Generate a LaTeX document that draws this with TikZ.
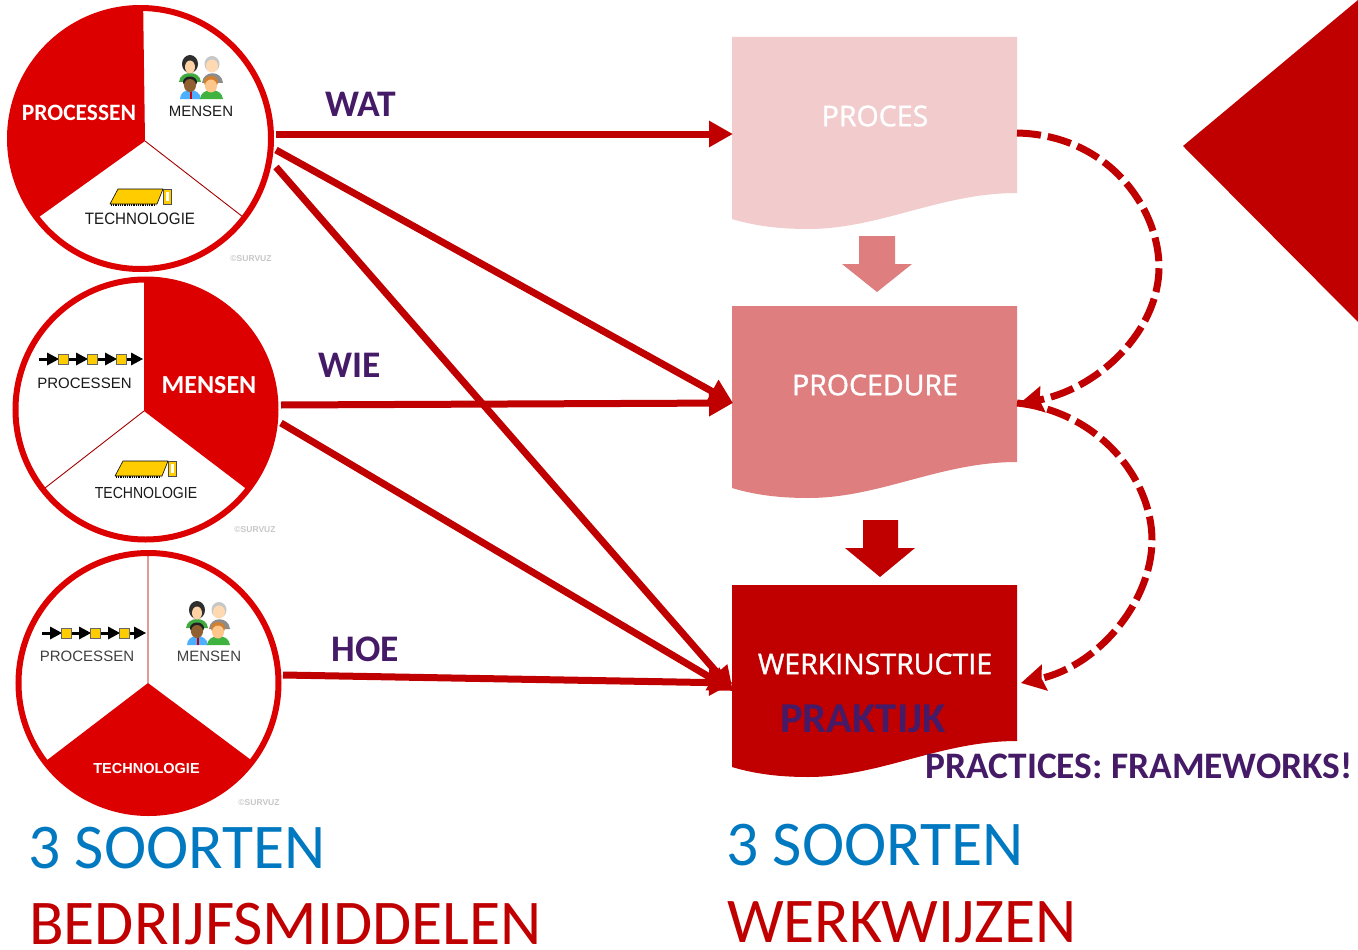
\documentclass[tikz,border=0pt]{standalone}
\usepackage{fontspec}
\setmainfont{Carlito}
\newfontfamily\arialf{Liberation Sans}
\newfontfamily\segf[FakeBold=1.3]{Open Sans}
\usetikzlibrary{arrows.meta}
\definecolor{cred}{HTML}{DD0000}
\definecolor{dred}{HTML}{C00000}
\definecolor{pinkA}{HTML}{F2CBCD}
\definecolor{pinkB}{HTML}{DF7E7F}
\definecolor{purp}{HTML}{451A66}
\definecolor{sblue}{HTML}{0079C1}
\definecolor{chipy}{HTML}{FFCC00}
\newcommand{\fsz}[1]{\fontsize{#1pt}{#1pt}\selectfont}
\tikzset{
  ringnode/.style={circle,draw=cred,line width=6pt,inner sep=0pt,fill=none},
  divider/.style={draw=dred!85!black,line width=.9pt},
  conn/.style={draw=dred,line width=7pt,-{Triangle[length=24pt,width=25pt]}},
  dashconn/.style={draw=dred,line width=7pt,dash pattern=on 24pt off 7pt,-{Stealth[length=24pt,width=26pt,inset=3pt]}},
  lbl/.style={font=\arialf\fsz{15},text=black!90,inner sep=0pt},
  wlbl/.style={font=\bfseries\fsz{23},text=white,inner sep=0pt},
  hoelbl/.style={font=\bfseries\fsz{37.5},text=purp,inner sep=0pt},
  copyr/.style={font=\arialf\bfseries\fsz{8.5},text=black!22,inner sep=0pt},
  bigblue/.style={font=\fsz{63.7},text=sblue,inner sep=0pt,anchor=base west},
  bigred/.style={font=\fsz{63.7},text=dred,inner sep=0pt,anchor=base west},
  doclbl/.style={font=\segf\fsz{28.5},text=white,inner sep=0pt},
  people/.pic={
    \fill[green!55!black!75] (-22,5) .. controls (-21,-7) and (-1,-7) .. (0,5) -- cycle;
    \fill[black!82] (-11,-13) ellipse (8 and 9);
    \fill[orange!35!white] (-11,-10) ellipse (5 and 6.5);
    \fill[black!45] (1,6) .. controls (2,-7) and (21,-7) .. (22,6) -- cycle;
    \fill[black!22] (11,-13) ellipse (7.5 and 8);
    \fill[orange!30!white] (11,-11) ellipse (6 and 6.5);
    \fill[blue!45!cyan!70] (-21,22) .. controls (-21,10) and (-1,10) .. (0,22) -- cycle;
    \fill[red!80!black] (-11.5,12) -- (-9.5,12) -- (-9.5,22) -- (-11.5,22) -- cycle;
    \fill[black!88] (-11,5) ellipse (7 and 5.5);
    \fill[brown!75!black] (-11,8.5) ellipse (6 and 6.5);
    \fill[green!60!black!75] (-1,22) .. controls (0,10) and (21,10) .. (22,22) -- cycle;
    \fill[brown!70!orange] (10,5) ellipse (7 and 6);
    \fill[orange!45!white] (10,9) ellipse (6 and 6.5);
  },
  chippic/.pic={
    \draw[black,line width=1.6pt,dash pattern=on 1pt off .8pt] (1,15.8) -- (46,15.8);
    \draw[black,line width=.6pt,fill=chipy,line join=round] (0,15) -- (8,0) -- (53,0) -- (47,15) -- cycle;
    \draw[black!70,line width=.6pt,fill=chipy] (53,0) rectangle (61,15);
    \fill[white] (55.5,3) rectangle (58.5,12);
  },
  flowpic/.pic={
    \foreach \a/\b in {0/19,29/48,58/77,87/103}{
      \draw[black,line width=3pt] (\a,0) -- (\b-5,0);
      \fill[black] (\b-11,-6.5) -- (\b+1,0) -- (\b-11,6.5) -- cycle;
    }
    \foreach \s in {24,53,82}{
      \draw[black!60,line width=.6pt,fill=chipy] (\s-5,-5) rectangle (\s+5,5);
    }
  }
}
\begin{document}
\begin{tikzpicture}[x=1pt,y=-1pt]
\useasboundingbox (0,0) rectangle (1358,950);
\fill[white] (0,0) rectangle (1358,950);

% right triangle
\fill[dred] (1358,0) -- (1183,146) -- (1358,322) -- cycle;

% resource circles: red sectors
\begin{scope}
  \clip (140.5,138.5) circle (131);
  \fill[cred] (145,141) -- (143,-5) -- (-10,-5) -- (-10,255) -- (-14,255) -- cycle;
  \draw[divider] (145,141) -- (243,217);
\end{scope}
\begin{scope}
  \clip (145.5,409.5) circle (130);
  \fill[cred] (144,411) -- (144,270) -- (290,270) -- (290,520) -- (282,516) -- cycle;
  \draw[divider] (144,411) -- (45,488);
\end{scope}
\begin{scope}
  \clip (148.5,683) circle (130);
  \fill[cred] (148,683) -- (-30,819) -- (330,819) -- cycle;
  \draw[draw=dred!40,line width=1.8pt] (148,683) -- (148,551);
\end{scope}
\node[ringnode,minimum size=261pt] (c1) at (140.5,138.5) {};
\node[ringnode,minimum size=260pt] (c2) at (145.5,409.5) {};
\node[ringnode,minimum size=260pt] (c3) at (148.5,683) {};

% circle contents
\node[wlbl,font=\bfseries\fsz{23.5}] (t1) at (79,113) {PROCESSEN};
\pic at (201,77) {people};
\node[lbl] (t2) at (201,111.5) {MENSEN};
\pic at (110,189) {chippic};
\node[lbl,font=\arialf\fsz{16.5}] (t3) at (140,219) {\scalebox{.917}[1]{TECHNOLOGIE}};
\node[copyr] (t4) at (251,259) {©SURVUZ};

\pic at (39,359) {flowpic};
\node[lbl] (t5) at (84.5,383) {PROCESSEN};
\node[wlbl,font=\bfseries\fsz{26}] (t6) at (209,385) {MENSEN};
\pic at (115,461) {chippic};
\node[lbl,font=\arialf\fsz{16}] (t7) at (146,492.5) {\scalebox{.88}[1]{TECHNOLOGIE}};
\node[copyr] (t8) at (255,530) {©SURVUZ};

\pic at (42,633) {flowpic};
\node[lbl,text=black!75] (t9) at (87,656.5) {PROCESSEN};
\pic at (208,623) {people};
\node[lbl,text=black!75] (t10) at (209,656.5) {MENSEN};
\node[font=\arialf\bfseries\fsz{14.5},text=white,inner sep=0pt] (t11) at (146.5,769) {TECHNOLOGIE};
\node[copyr] (t12) at (259,803) {©SURVUZ};

% documents
\fill[pinkA] (732,37) -- (1017,37) -- (1017,193) .. controls (940,193) and (880,229) .. (808,229) .. controls (780,229) and (755,226) .. (732,219) -- cycle;
\fill[pinkB] (732,306) -- (1017,306) -- (1017,462) .. controls (940,462) and (880,498) .. (808,498) .. controls (780,498) and (755,495) .. (732,488) -- cycle;
\fill[dred] (732,585) -- (1017,585) -- (1017,741) .. controls (940,741) and (880,777) .. (808,777) .. controls (780,777) and (755,774) .. (732,767) -- cycle;
\node[doclbl,text=white] (d1) at (875,116) {PROCES};
\node[doclbl] (d2) at (875,385) {PROCEDURE};
\node[doclbl] (d3) at (875,664) {WERKINSTRUCTIE};
\node[font=\bfseries\fsz{42.6},text=purp,inner sep=0pt] (d4) at (863,719) {PRAKTIJK};
\node[font=\bfseries\fsz{37.4},text=purp,inner sep=0pt,anchor=east] (d5) at (1353,766) {PRACTICES: FRAMEWORKS!};

% block arrows
\fill[pinkB] (859,236) -- (895,236) -- (895,264) -- (912,264) -- (877,292) -- (842,264) -- (859,264) -- cycle;
\fill[dred] (863,520) -- (898,520) -- (898,548) -- (915,548) -- (880,577) -- (845,548) -- (863,548) -- cycle;

% connector ends
\coordinate (a1) at (276,134);
\coordinate (a2) at (276,150);
\coordinate (a3) at (276,167);
\coordinate (b1) at (281,405);
\coordinate (b2) at (281,423);
\coordinate (e1) at (283,675);
\coordinate (p1) at (733,134);
\coordinate (p2) at (733,403);
\coordinate (p3) at (733,691);
\coordinate (p4) at (733,683);
\coordinate (q1) at (1017,133);
\coordinate (q2) at (1019,404);
\coordinate (q3) at (1017,403);
\coordinate (q4) at (1021,683);

\draw[conn] (a1) -- (p1);
\draw[conn] (a2) -- (p2);
\draw[conn] (a3) -- (p3);
\draw[conn] (b1) -- (p2);
\draw[conn] (b2) -- (p3);
\draw[conn] (e1) -- (p4);
\draw[dashconn] (q1) .. controls (1110,135) and (1159,210) .. (1159,267) .. controls (1159,330) and (1100,388) .. (q2);
\draw[dashconn] (q3) .. controls (1100,412) and (1152,480) .. (1152,540) .. controls (1152,600) and (1100,665) .. (q4);

% labels
\node[hoelbl] (w1) at (361,104) {WAT};
\node[hoelbl] (w2) at (350,365) {WIE};
\node[hoelbl] (w3) at (365,649) {HOE};

\node[bigblue] (s1) at (28,868) {3 SOORTEN};
\node[bigred] (s2) at (29,944.5) {\smash{BEDRIJFSMIDDELEN}};
\node[bigblue] (s3) at (726,865) {3 SOORTEN};
\node[bigred] (s4) at (727,942.5) {\smash{WERKWIJZEN}};
\end{tikzpicture}
\end{document}
